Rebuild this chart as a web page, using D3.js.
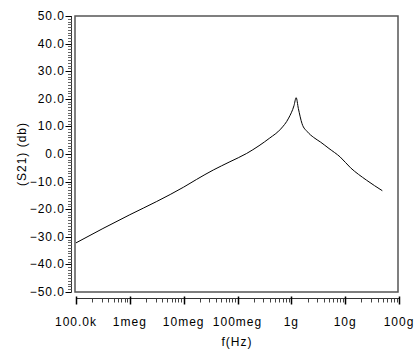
<!DOCTYPE html>
<html>
<head>
<meta charset="utf-8">
<script src="https://cdn.jsdelivr.net/npm/d3@7"></script>
<style>
	body { margin: 0; background: #fff; }
	svg text { font-family: "Liberation Sans", Arial, sans-serif; font-size: 12px; letter-spacing: 1px; fill: #000; }
</style>
</head>
<body>
<div id="chart"></div>
<script>
// curve: frequency (Hz) and S21 (dB)
var freq = [1e5, 3.16e5, 1e6, 3.16e6, 1e7, 1.74e7, 3.55e7, 7.24e7, 1.48e8, 2.51e8, 3.98e8, 6.31e8,
	8.91e8, 1.12e9, 1.23e9, 1.35e9, 1.58e9, 2.0e9, 2.6e9, 3.5e9, 5.0e9, 8.1e9, 1.26e10, 2.5e10, 4.9e10];
var s21 = [-32.2, -27.0, -22.0, -17.2, -12.0, -9.2, -5.8, -2.8, 0.2, 3.0, 5.8, 9.0,
	13.0, 17.5, 20.4, 16.5, 11.0, 8.0, 6.0, 4.3, 2.0, -1.1, -5.0, -9.5, -13.3];
var xTicks = [1e5, 1e6, 1e7, 1e8, 1e9, 1e10, 1e11];
var xTickLabels = ["100.0k", "1meg", "10meg", "100meg", "1g", "10g", "100g"];
var yTicks = [50, 40, 30, 20, 10, 0, -10, -20, -30, -40, -50];

var width = 418, height = 350,
	box = { l: 75, r: 398, t: 16, b: 292 },
	fmt = d3.format(".1f");

var svg = d3.select("#chart").append("svg")
	.attr("width", width)
	.attr("height", height);

var x = d3.scaleLog().domain([1e5, 1e11]).range([box.l + 1, box.r + 1]);
var y = d3.scaleLinear().domain([-50, 50]).range([box.b, box.t]);

// plot frame
svg.append("rect")
	.attr("x", box.l).attr("y", box.t)
	.attr("width", box.r - box.l).attr("height", box.b - box.t)
	.attr("fill", "none")
	.attr("stroke", "#555")
	.attr("stroke-width", 1.5);

// y axis, offset a little left of the frame
var yAxisX = 71.5;
var yg = svg.append("g");
yg.append("line")
	.attr("x1", yAxisX).attr("x2", yAxisX)
	.attr("y1", y(50)).attr("y2", y(-50))
	.attr("stroke", "#333");
yg.selectAll("line.minor")
	.data(d3.range(-50, 51, 1))
	.join("line")
	.attr("class", "minor")
	.attr("x1", yAxisX - 3.5).attr("x2", yAxisX)
	.attr("y1", function (d) { return Math.round(y(d)) + 0.5; })
	.attr("y2", function (d) { return Math.round(y(d)) + 0.5; })
	.attr("stroke", "#666");
yg.selectAll("line.major")
	.data(yTicks)
	.join("line")
	.attr("class", "major")
	.attr("x1", yAxisX - 6).attr("x2", yAxisX)
	.attr("y1", function (d) { return Math.round(y(d)) + 0.5; })
	.attr("y2", function (d) { return Math.round(y(d)) + 0.5; })
	.attr("stroke", "#000");
yg.selectAll("text")
	.data(yTicks)
	.join("text")
	.attr("x", 65)
	.attr("y", function (d) { return y(d) + 4; })
	.attr("text-anchor", "end")
	.text(function (d) { return fmt(d); });

// x axis, offset below the frame
var xAxisY = 298.5;
var xg = svg.append("g");
xg.append("line")
	.attr("x1", x(1e5)).attr("x2", x(1e11))
	.attr("y1", xAxisY).attr("y2", xAxisY)
	.attr("stroke", "#333");
var minors = [];
xTicks.slice(0, -1).forEach(function (t) {
	for (var k = 2; k < 10; k++) minors.push(t * k);
});
xg.selectAll("line.minor")
	.data(minors)
	.join("line")
	.attr("class", "minor")
	.attr("x1", function (d) { return Math.round(x(d)) + 0.5; })
	.attr("x2", function (d) { return Math.round(x(d)) + 0.5; })
	.attr("y1", xAxisY).attr("y2", xAxisY + 4)
	.attr("stroke", "#444");
xg.selectAll("line.major")
	.data(xTicks)
	.join("line")
	.attr("class", "major")
	.attr("x1", function (d) { return Math.round(x(d)) + 0.5; })
	.attr("x2", function (d) { return Math.round(x(d)) + 0.5; })
	.attr("y1", xAxisY - 2).attr("y2", xAxisY + 6)
	.attr("stroke", "#000")
	.attr("stroke-width", 1.5);
xg.selectAll("text")
	.data(xTicks)
	.join("text")
	.attr("x", function (d) { return x(d); })
	.attr("y", 326)
	.attr("text-anchor", "middle")
	.text(function (d, i) { return xTickLabels[i]; });

// axis titles
svg.append("text")
	.attr("x", 237).attr("y", 346)
	.attr("text-anchor", "middle")
	.text("f(Hz)");
svg.append("text")
	.attr("transform", "translate(26,154) rotate(-90)")
	.attr("text-anchor", "middle")
	.text("(S21) (db)");

// curve
var line = d3.line()
	.x(function (d, i) { return x(freq[i]); })
	.y(function (d) { return y(d); })
	.curve(d3.curveMonotoneX);

svg.append("path")
	.datum(s21)
	.attr("d", line)
	.attr("fill", "none")
	.attr("stroke", "#000")
	.attr("stroke-width", 1);
</script>
</body>
</html>
